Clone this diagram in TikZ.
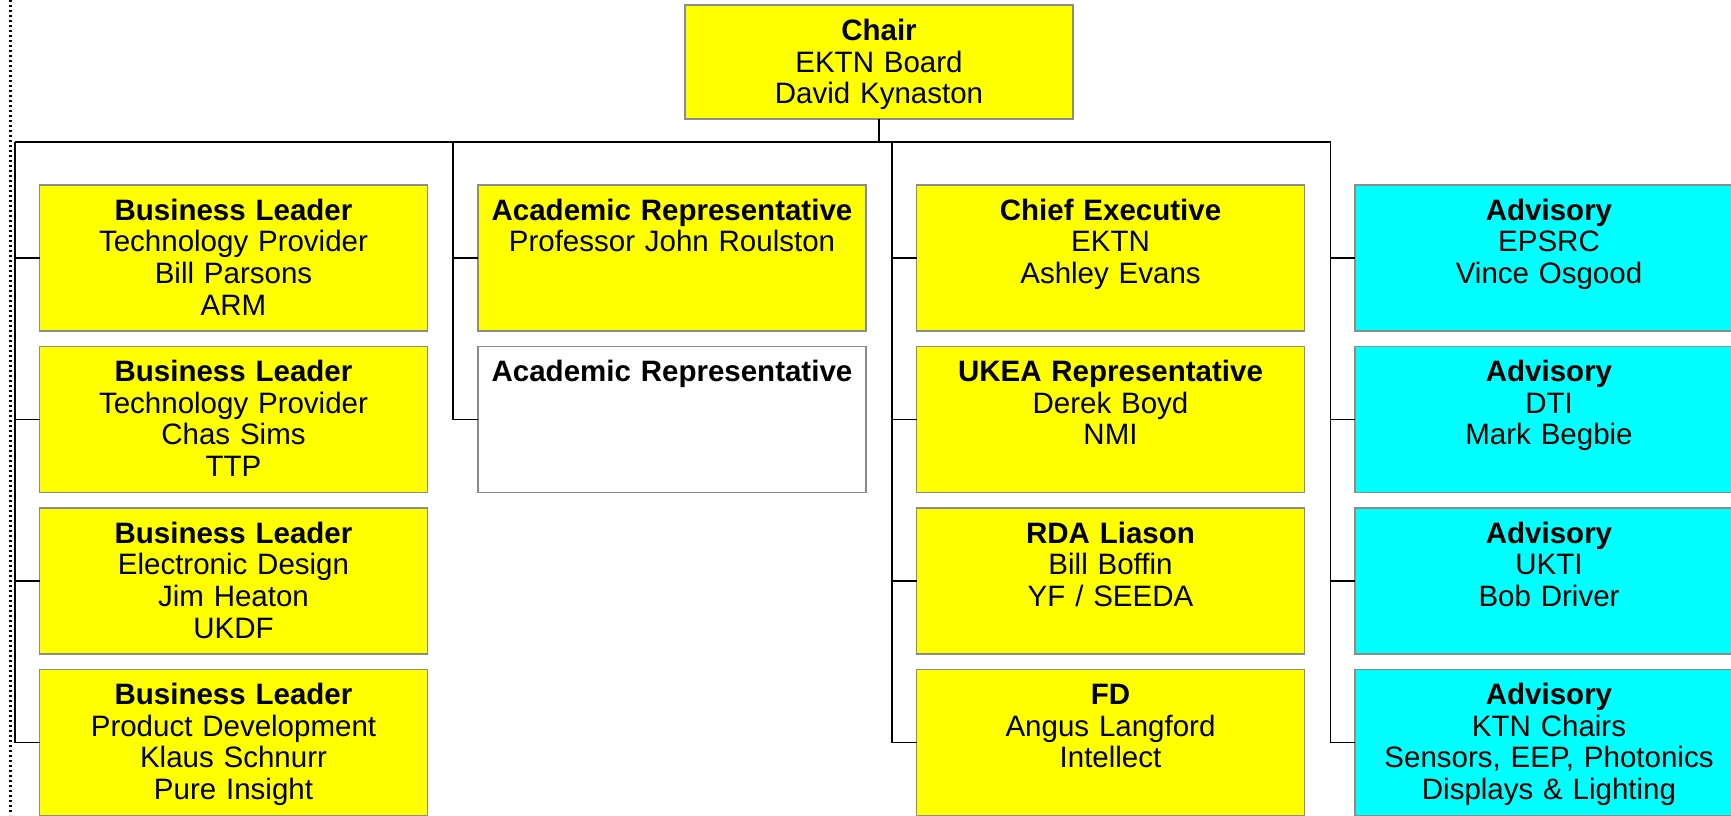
\documentclass[tikz,border=0pt]{standalone}
\usepackage{fontspec}
\setmainfont{Liberation Sans}
\definecolor{boxyellow}{RGB}{255,255,0}
\definecolor{boxcyan}{RGB}{0,255,255}
\definecolor{boxedge}{RGB}{140,140,140}
\begin{document}
\begin{tikzpicture}[x=1pt,y=-1pt,
  orgbox/.style={draw=boxedge, line width=1.8pt, minimum width=388pt, minimum height=146pt, inner sep=0pt, outer sep=0pt},
  ybox/.style={orgbox, fill=boxyellow},
  cbox/.style={orgbox, fill=boxcyan},
  wbox/.style={orgbox, fill=white},
  boxtext/.style={anchor=base, text width=386pt, align=center, inner sep=0pt, font=\fontsize{29.5}{31.7}\selectfont},
  conn/.style={line width=1.9pt, black},
  dotline/.style={line width=2.4pt, dash pattern=on 2.4pt off 2.6pt, black}
]
\clip (0,0) rectangle (1731,815);
\fill[white] (0,0) rectangle (1731,815);

% chair
\node[ybox, minimum height=114pt] (chair) at (879,62.3) {};
\node[boxtext] (chairT) at ([yshift=-35pt]chair.north) {\textbf{Chair}\\EKTN Board\\David Kynaston};

% column 1
\node[ybox] (b11) at (233.5,258) {};
\node[ybox] (b12) at (233.5,419.5) {};
\node[ybox] (b13) at (233.5,581) {};
\node[ybox] (b14) at (233.5,742.5) {};
\node[boxtext] (t11) at ([yshift=-35pt]b11.north) {\textbf{Business Leader}\\Technology Provider\\Bill Parsons\\ARM};
\node[boxtext] (t12) at ([yshift=-35pt]b12.north) {\textbf{Business Leader}\\Technology Provider\\Chas Sims\\TTP};
\node[boxtext] (t13) at ([yshift=-35pt]b13.north) {\textbf{Business Leader}\\Electronic Design\\Jim Heaton\\UKDF};
\node[boxtext] (t14) at ([yshift=-35pt]b14.north) {\textbf{Business Leader}\\Product Development\\Klaus Schnurr\\Pure Insight};

% column 2
\node[ybox] (b21) at (672,258) {};
\node[wbox] (b22) at (672,419.5) {};
\node[boxtext] (t21) at ([yshift=-35pt]b21.north) {\textbf{Academic Representative}\\Professor John Roulston};
\node[boxtext] (t22) at ([yshift=-35pt]b22.north) {\textbf{Academic Representative}};

% column 3
\node[ybox] (b31) at (1110.5,258) {};
\node[ybox] (b32) at (1110.5,419.5) {};
\node[ybox] (b33) at (1110.5,581) {};
\node[ybox] (b34) at (1110.5,742.5) {};
\node[boxtext] (t31) at ([yshift=-35pt]b31.north) {\textbf{Chief Executive}\\EKTN\\Ashley Evans};
\node[boxtext] (t32) at ([yshift=-35pt]b32.north) {\textbf{UKEA Representative}\\Derek Boyd\\NMI};
\node[boxtext] (t33) at ([yshift=-35pt]b33.north) {\textbf{RDA Liason}\\Bill Boffin\\YF / SEEDA};
\node[boxtext] (t34) at ([yshift=-35pt]b34.north) {\textbf{FD}\\Angus Langford\\Intellect};

% column 4
\node[cbox] (b41) at (1549,258) {};
\node[cbox] (b42) at (1549,419.5) {};
\node[cbox] (b43) at (1549,581) {};
\node[cbox] (b44) at (1549,742.5) {};
\node[boxtext] (t41) at ([yshift=-35pt]b41.north) {\textbf{Advisory}\\EPSRC\\Vince Osgood};
\node[boxtext] (t42) at ([yshift=-35pt]b42.north) {\textbf{Advisory}\\DTI\\Mark Begbie};
\node[boxtext] (t43) at ([yshift=-35pt]b43.north) {\textbf{Advisory}\\UKTI\\Bob Driver};
\node[boxtext] (t44) at ([yshift=-35pt]b44.north) {\textbf{Advisory}\\KTN Chairs\\Sensors, EEP, Photonics\\Displays \& Lighting};

% connectors
\coordinate (busL) at (15,141.7);
\coordinate (v2) at (453,141.7);
\coordinate (v3) at (892,141.7);
\coordinate (busR) at (1330.5,141.7);
\draw[conn] (chair.south) -- (chair.south |- busL);
\draw[conn] (busL) -- (busR);

\draw[conn] (busL) |- (b14.west);
\draw[conn] (busL |- b11.west) -- (b11.west);
\draw[conn] (busL |- b12.west) -- (b12.west);
\draw[conn] (busL |- b13.west) -- (b13.west);

\draw[conn] (v2) |- (b22.west);
\draw[conn] (v2 |- b21.west) -- (b21.west);

\draw[conn] (v3) |- (b34.west);
\draw[conn] (v3 |- b31.west) -- (b31.west);
\draw[conn] (v3 |- b32.west) -- (b32.west);
\draw[conn] (v3 |- b33.west) -- (b33.west);

\draw[conn] (busR) |- (b44.west);
\draw[conn] (busR |- b41.west) -- (b41.west);
\draw[conn] (busR |- b42.west) -- (b42.west);
\draw[conn] (busR |- b43.west) -- (b43.west);

% dotted margin line
\coordinate (dotTop) at (10.5,0);
\coordinate (dotBot) at (10.5,815);
\draw[dotline] (dotTop) -- (dotBot);
\end{tikzpicture}
\end{document}
